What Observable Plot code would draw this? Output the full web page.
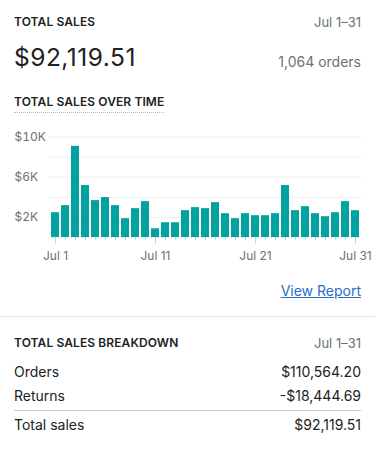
<!DOCTYPE html>
<html>
<head>
<meta charset="utf-8">
<script src="https://cdn.jsdelivr.net/npm/d3@7"></script>
<script src="https://cdn.jsdelivr.net/npm/@observablehq/plot@0.6"></script>
<style>
  html, body { margin: 0; padding: 0; background: #ffffff; }
  body { width: 375px; height: 451px; position: relative; overflow: hidden;
         font-family: Inter, "Noto Sans", sans-serif; color: #202223; }
  .t { position: absolute; white-space: nowrap; height: 20px; line-height: 20px; }
  .h { font-size: 12px; font-weight: 600; letter-spacing: 0.1px; color: #202223; }
  .g { color: #6d7175; }
  .l { left: 14px; }
  .r { right: 14px; text-align: right; }
  .row { font-size: 14px; color: #202223; }
  #chart { position: absolute; left: 0; top: 126px; }
</style>
</head>
<body>
<div class="t h l" style="top:12px;">TOTAL SALES</div>
<div class="t g r" style="top:12px;font-size:13px;">Jul 1–31</div>
<div class="t l" style="top:42px;height:30px;line-height:30px;font-size:24.5px;letter-spacing:0.5px;">$92,119.51</div>
<div class="t g r" style="top:52px;font-size:14px;">1,064 orders</div>
<div class="t h l" style="top:92px;"><span style="border-bottom:1px dotted #b5b9bd;padding-bottom:3px;">TOTAL SALES OVER TIME</span></div>
<div id="chart"></div>
<div class="t r" style="top:281px;font-size:14px;"><span style="color:#2c6ecb;text-decoration:underline;">View Report</span></div>
<div style="position:absolute;left:0;top:316px;width:375px;height:1px;background:#e1e3e5;"></div>
<div class="t h l" style="top:333px;">TOTAL SALES BREAKDOWN</div>
<div class="t g r" style="top:333px;font-size:13px;">Jul 1–31</div>
<div class="t row l" style="top:362px;">Orders</div>
<div class="t row r" style="top:362px;">$110,564.20</div>
<div class="t row l" style="top:386px;">Returns</div>
<div class="t row r" style="top:386px;">-$18,444.69</div>
<div style="position:absolute;left:14px;top:410px;width:347px;height:1px;background:#c9cccf;"></div>
<div class="t row l" style="top:415px;">Total sales</div>
<div class="t row r" style="top:415px;">$92,119.51</div>
<script>
const days = [1, 2, 3, 4, 5, 6, 7, 8, 9, 10, 11, 12, 13, 14, 15, 16, 17, 18, 19, 20,
              21, 22, 23, 24, 25, 26, 27, 28, 29, 30, 31];
const sales = [2470, 3170, 9070, 5170, 3670, 3970, 3170, 1870, 2870, 3570,
               870, 1470, 1470, 2670, 2970, 2870, 3470, 2370, 1870, 2370,
               2170, 2170, 2370, 5170, 2670, 3070, 2370, 2070, 2470, 3570, 2670];
const yGrid = [0, 2000, 4000, 6000, 8000, 10000];
const yTicks = [2000, 6000, 10000];
const yTickLabels = ["$2K", "$6K", "$10K"];
const xTicks = [1, 11, 21, 31];
const xTickLabels = ["Jul 1", "Jul 11", "Jul 21", "Jul 31"];

const data = days.map((d, i) => ({day: d, sales: sales[i]}));

const chart = Plot.plot({
  width: 375,
  height: 139,
  marginTop: 10.5,
  marginBottom: 28,
  marginLeft: 48,
  marginRight: 14,
  style: {fontFamily: "Inter, 'Noto Sans', sans-serif", fontSize: "12px", color: "#6d7175", background: "transparent", overflow: "visible"},
  x: {type: "band", domain: days, paddingInner: 0.2, paddingOuter: 0.1},
  y: {domain: [0, 10000]},
  marks: [
    Plot.gridY(yGrid, {stroke: "#ebeef0", strokeOpacity: 1}),
    Plot.barY(data, {x: "day", y: "sales", fill: "#00a39f"}),
    Plot.axisY(yTicks, {tickSize: 0, tickPadding: 34, textAnchor: "start", label: null,
      fill: "#6d7175", tickFormat: d => yTickLabels[yTicks.indexOf(d)]}),
    Plot.axisX(days, {tickSize: 3, stroke: "#d2d5d8", label: null, tickFormat: () => ""}),
    Plot.axisX(xTicks, {tickSize: 7, tickPadding: 7, stroke: "#d2d5d8", fill: "#6d7175", label: null,
      tickFormat: d => xTickLabels[xTicks.indexOf(d)]})
  ]
});
document.getElementById("chart").appendChild(chart);
</script>
</body>
</html>
